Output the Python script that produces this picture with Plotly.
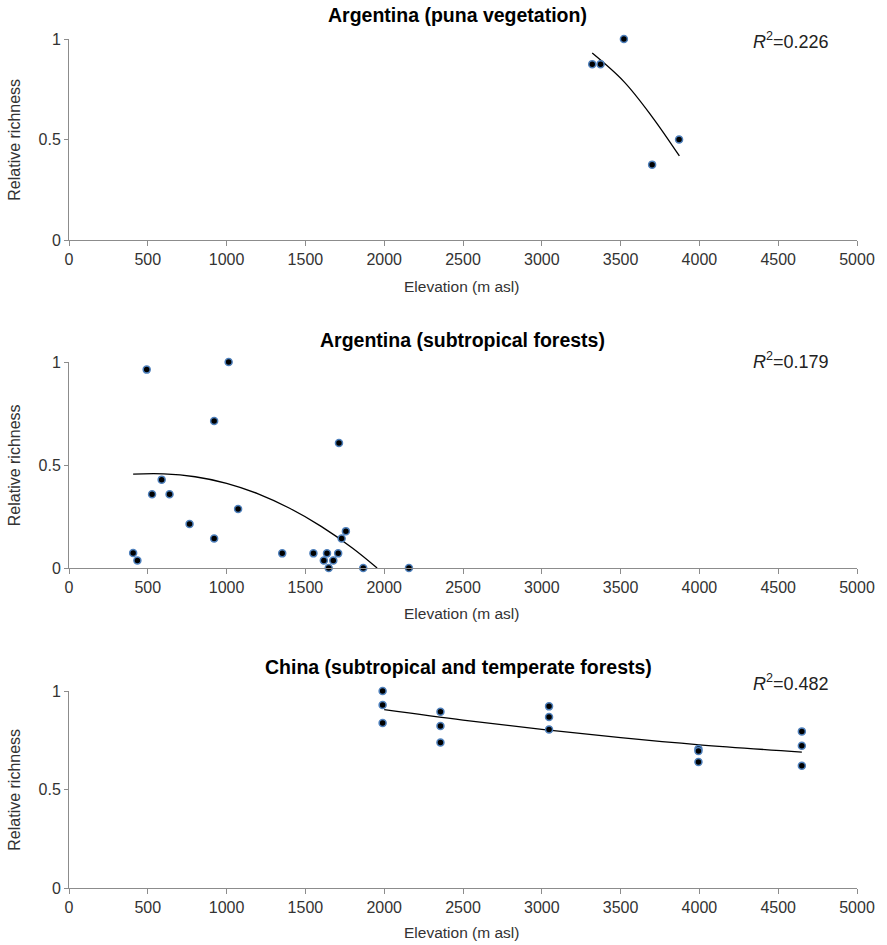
import plotly.graph_objects as go

# ---- data ----
titles = ["Argentina (puna vegetation)", "Argentina (subtropical forests)",
          "China (subtropical and temperate forests)"]
r2_labels = ["0.226", "0.179", "0.482"]

puna_elev = [3320, 3373, 3521, 3700, 3871]
puna_rich = [0.875, 0.875, 1.0, 0.375, 0.5]
puna_trend_x = [3320, 3521, 3700, 3873]
puna_trend_y = [0.93, 0.788, 0.613, 0.418]

sub_elev = [407, 434, 493, 527, 588, 638, 765, 921, 921, 1013, 1073, 1353,
            1551, 1617, 1637, 1648, 1677, 1708, 1713, 1730, 1757, 1867, 2157]
sub_rich = [0.073, 0.036, 0.963, 0.358, 0.429, 0.358, 0.214, 0.714, 0.143, 1.0,
            0.286, 0.071, 0.071, 0.036, 0.071, 0.0, 0.036, 0.071, 0.607, 0.143,
            0.179, 0.0, 0.0]
sub_trend_x = [407, 600, 800, 1000, 1200, 1400, 1600, 1800, 1955]
sub_trend_y = [0.456, 0.457, 0.443, 0.411, 0.36, 0.29, 0.202, 0.096, 0.0]

china_elev = [1990, 1990, 1990, 2357, 2357, 2357, 3046, 3046, 3046,
              3994, 3994, 3994, 4650, 4650, 4650]
china_rich = [1.0, 0.929, 0.838, 0.895, 0.822, 0.739, 0.922, 0.868, 0.804,
              0.706, 0.695, 0.64, 0.795, 0.722, 0.621]
china_trend_x = [2000, 2500, 3000, 3500, 4000, 4650]
china_trend_y = [0.905, 0.852, 0.805, 0.763, 0.727, 0.69]

x_ticks = [0, 500, 1000, 1500, 2000, 2500, 3000, 3500, 4000, 4500, 5000]
y_ticks = [0, 0.5, 1]

panels = [(puna_elev, puna_rich, puna_trend_x, puna_trend_y),
          (sub_elev, sub_rich, sub_trend_x, sub_trend_y),
          (china_elev, china_rich, china_trend_x, china_trend_y)]

# ---- layout geometry (pixels) ----
W, H = 887, 945
L, R, T, B = 69, 27, 39, 57
plot_h = H - T - B
panel_px = [(39, 240), (362, 568), (691, 888)]  # top, bottom of each plot area
title_y_px = [15, 340, 667]
title_x_px = [459, 464, 460]
r2_y_px = [40, 360, 682]
xtitle_y_px = [286, 614, 933]


def py(p):
    return (H - B - p) / plot_h


def px(p):
    return (p - L) / (W - L - R)


fig = go.Figure()
font = "Liberation Sans, Arial, sans-serif"
axis_col = "#8c8c8c"
annotations = []

for i, (ex, ry, tx, ty) in enumerate(panels):
    n = "" if i == 0 else str(i + 1)
    fig.add_trace(go.Scatter(x=tx, y=ty, mode="lines", line=dict(color="black", width=1.3, shape="spline"),
                             xaxis="x" + n, yaxis="y" + n, showlegend=False, hoverinfo="skip"))
    fig.add_trace(go.Scatter(x=ex, y=ry, mode="markers",
                             marker=dict(size=7, color="black", line=dict(color="#4f81bd", width=1.5)),
                             xaxis="x" + n, yaxis="y" + n, showlegend=False, cliponaxis=False))
    top, bot = panel_px[i]
    xa = dict(domain=[0, 1], range=[0, 5000], tickvals=x_ticks, ticktext=[str(v) for v in x_ticks],
              showline=True, linecolor=axis_col, linewidth=1, ticks="outside", ticklen=5,
              tickcolor=axis_col, showgrid=False, zeroline=False,
              tickfont=dict(family=font, size=16, color="#333333"),
              anchor="y" + n)
    ya = dict(domain=[py(bot), py(top)], range=[0, 1], tickvals=y_ticks, ticktext=["0", "0.5", "1"],
              showline=True, linecolor=axis_col, linewidth=1, ticks="outside", ticklen=4,
              tickcolor=axis_col, showgrid=False, zeroline=False,
              tickfont=dict(family=font, size=16, color="#333333"),
              anchor="x" + n)
    fig.update_layout(**{"xaxis" + n: xa, "yaxis" + n: ya})

    annotations.append(dict(text="<b>" + titles[i] + "</b>", xref="paper", yref="paper",
                            x=px(title_x_px[i]), y=py(title_y_px[i]), xanchor="center", yanchor="middle",
                            showarrow=False, font=dict(family=font, size=19.5, color="black")))
    annotations.append(dict(text="<i>R</i><sup>2</sup>=" + r2_labels[i], xref="paper", yref="paper",
                            x=px(754), y=py(r2_y_px[i]), xanchor="left", yanchor="middle",
                            showarrow=False, font=dict(family=font, size=18, color="#222222")))
    annotations.append(dict(text="Elevation (m asl)", xref="paper", yref="paper",
                            x=px(463), y=py(xtitle_y_px[i]), xanchor="center", yanchor="middle",
                            showarrow=False, font=dict(family=font, size=15.5, color="#333333")))
    annotations.append(dict(text="Relative richness", xref="paper", yref="paper",
                            x=px(14), y=py((top + bot) / 2), xanchor="center", yanchor="middle",
                            textangle=-90, showarrow=False, font=dict(family=font, size=16, color="#333333")))

fig.update_layout(width=W, height=H, margin=dict(l=L, r=R, t=T, b=B),
                  plot_bgcolor="white", paper_bgcolor="white", annotations=annotations)

fig.write_html("out.html", config={"displayModeBar": False},
               post_script="document.body.style.margin='0';")
